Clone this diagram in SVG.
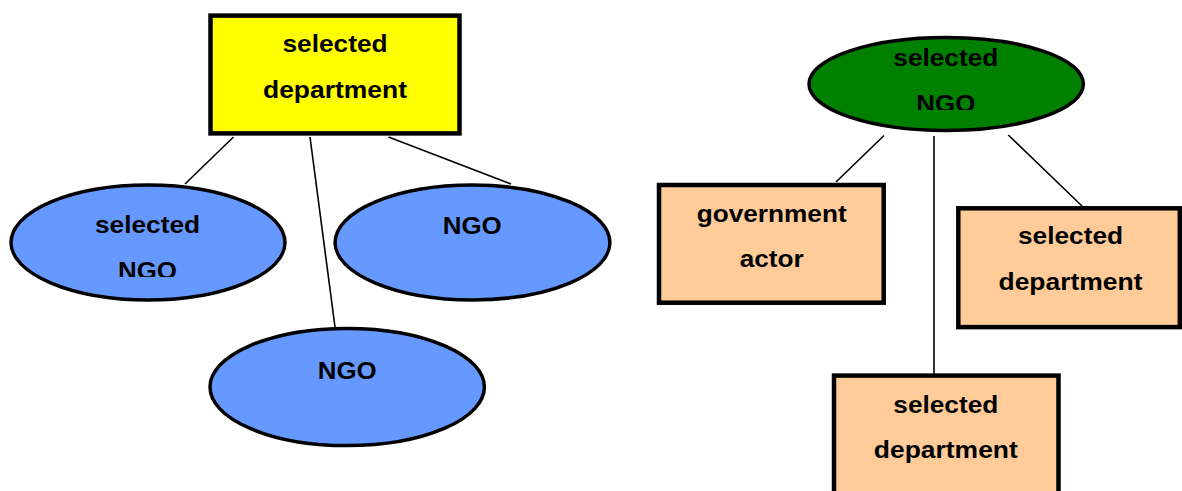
<svg xmlns="http://www.w3.org/2000/svg" width="1182" height="491" viewBox="0 0 1182 491">
<style>
.t{font-family:"Liberation Sans",Arial,sans-serif;font-weight:bold;font-size:24px;fill:#000;text-anchor:middle}
.box{stroke:#000;stroke-width:4.5}
.ell{stroke:#000;stroke-width:3.5}
.edge{stroke:#000;stroke-width:1.6;fill:none}
</style>
<defs>
<clipPath id="clipL"><rect x="0" y="0" width="400" height="277"/></clipPath>
<clipPath id="clipG"><rect x="700" y="0" width="482" height="110"/></clipPath>
</defs>
<rect width="1182" height="491" fill="#fff"/>
<g id="connectors">
<line class="edge" x1="233.5" y1="137" x2="185" y2="184"/>
<line class="edge" x1="310" y1="137" x2="335" y2="327"/>
<line class="edge" x1="388.5" y1="137" x2="511" y2="184"/>
<line class="edge" x1="884" y1="135.5" x2="836" y2="182"/>
<line class="edge" x1="934" y1="136" x2="934" y2="374"/>
<line class="edge" x1="1008.3" y1="135" x2="1082" y2="206"/>
</g>
<g id="n-dept-top">
<rect class="box" x="210.5" y="15.6" width="249" height="117.8" fill="#ffff00"/>
<text class="t" x="335" y="52.3" textLength="105" lengthAdjust="spacingAndGlyphs">selected</text>
<text class="t" x="335" y="98.3" textLength="144" lengthAdjust="spacingAndGlyphs">department</text>
</g>
<g id="n-ngo-selected-left">
<ellipse class="ell" cx="148" cy="242.5" rx="137" ry="57.4" fill="#6699ff"/>
<text class="t" x="147.5" y="233.3" textLength="105" lengthAdjust="spacingAndGlyphs">selected</text>
<text class="t" x="147.5" y="279" textLength="59" lengthAdjust="spacingAndGlyphs" clip-path="url(#clipL)">NGO</text>
</g>
<g id="n-ngo-right">
<ellipse class="ell" cx="472.5" cy="242.5" rx="137.4" ry="57.4" fill="#6699ff"/>
<text class="t" x="472.2" y="234.3" textLength="59" lengthAdjust="spacingAndGlyphs">NGO</text>
</g>
<g id="n-ngo-bottom">
<ellipse class="ell" cx="347.2" cy="387" rx="137.2" ry="58.6" fill="#6699ff"/>
<text class="t" x="347.2" y="379" textLength="59" lengthAdjust="spacingAndGlyphs">NGO</text>
</g>
<g id="n-ngo-green">
<ellipse class="ell" cx="946.2" cy="84" rx="137.2" ry="46.5" fill="#008000"/>
<text class="t" x="945.8" y="66" textLength="105" lengthAdjust="spacingAndGlyphs">selected</text>
<text class="t" x="945.8" y="112.3" textLength="59" lengthAdjust="spacingAndGlyphs" clip-path="url(#clipG)">NGO</text>
</g>
<g id="n-gov-actor">
<rect class="box" x="659" y="185" width="224.7" height="117.7" fill="#ffcc99"/>
<text class="t" x="771.7" y="221.7" textLength="150" lengthAdjust="spacingAndGlyphs">government</text>
<text class="t" x="771.7" y="266.7" textLength="64" lengthAdjust="spacingAndGlyphs">actor</text>
</g>
<g id="n-dept-right">
<rect class="box" x="958.3" y="208.3" width="221.5" height="118.8" fill="#ffcc99"/>
<text class="t" x="1070.5" y="244" textLength="105" lengthAdjust="spacingAndGlyphs">selected</text>
<text class="t" x="1070.5" y="290" textLength="144" lengthAdjust="spacingAndGlyphs">department</text>
</g>
<g id="n-dept-bottom">
<rect class="box" x="834" y="375.6" width="224.5" height="130" fill="#ffcc99"/>
<text class="t" x="945.8" y="413.3" textLength="105" lengthAdjust="spacingAndGlyphs">selected</text>
<text class="t" x="945.8" y="458.3" textLength="144" lengthAdjust="spacingAndGlyphs">department</text>
</g>
</svg>
